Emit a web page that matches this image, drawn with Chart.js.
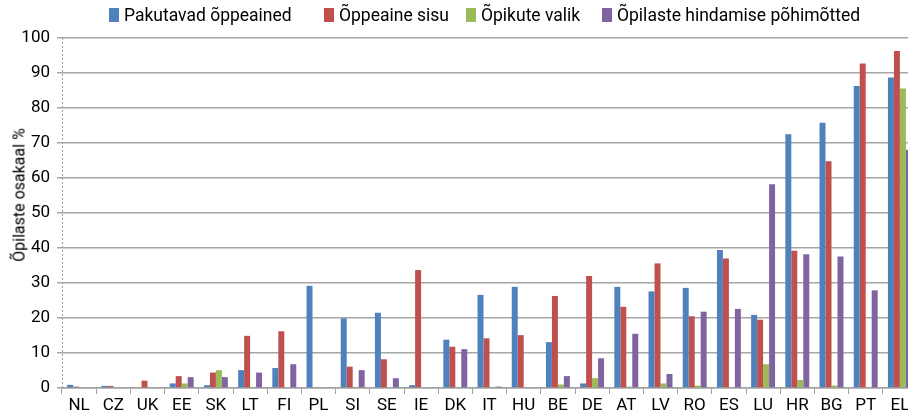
<!DOCTYPE html>
<html>
<head>
<meta charset="utf-8">
<script src="https://cdn.jsdelivr.net/npm/chart.js@4"></script>
<style>
  html, body { margin: 0; padding: 0; background: #fff; overflow: hidden; width: 908px; height: 419px; }
  #wrap { position: relative; width: 908px; height: 419px; }
  canvas { position: absolute; left: 0; top: 0; }
  #legend { position: absolute; left: 0; top: 5px; width: 908px; height: 24px; font-family: Roboto, sans-serif; font-size: 17.5px; color: #000; white-space: nowrap; }
  .item { position: absolute; top: 0; display: flex; align-items: center; }
  .box { width: 10px; height: 14px; margin-right: 5px; }
  #ytitle { position: absolute; left: 19px; top: 195px; transform: translate(-50%, -50%) rotate(-90deg); font-family: Roboto, sans-serif; font-size: 16px; color: #000; white-space: nowrap; }
</style>
</head>
<body>
<div id="wrap">
  <canvas id="chart" width="918" height="419"></canvas>
  <div id="legend"></div>
  <div id="ytitle">Õpilaste osakaal %</div>
</div>
<script>
const countries = ['NL','CZ','UK','EE','SK','LT','FI','PL','SI','SE','IE','DK','IT','HU','BE','DE','AT','LV','RO','ES','LU','HR','BG','PT','EL'];

const pakutavad = [0.9, 0.6, 0, 1.3, 0.8, 5.1, 5.7, 29.2, 19.9, 21.5, 0.8, 13.8, 26.6, 28.9, 13.1, 1.3, 28.9, 27.6, 28.6, 39.4, 20.9, 72.5, 75.8, 86.3, 88.7];
const sisu      = [0.4, 0.6, 2.1, 3.4, 4.4, 14.9, 16.2, 0, 6.1, 8.2, 33.7, 11.8, 14.2, 15.1, 26.3, 32.0, 23.2, 35.6, 20.5, 37.0, 19.5, 39.2, 64.8, 92.7, 96.3];
const valik     = [0, 0.3, 0, 1.3, 5.1, 0.3, 0, 0, 0.3, 0, 0, 0, 0, 0, 1.0, 2.8, 0.4, 1.3, 0.7, 0, 6.8, 2.3, 0.7, 0, 85.6];
const hindamine = [0, 0, 0, 3.1, 3.1, 4.4, 6.8, 0, 5.1, 2.8, 0, 11.1, 0.4, 0, 3.4, 8.5, 15.5, 4.0, 21.8, 22.6, 58.2, 38.2, 37.6, 27.9, 68.1];

const seriesNames = ['Pakutavad õppeained', 'Õppeaine sisu', 'Õpikute valik', 'Õpilaste hindamise põhimõtted'];
const seriesColors = ['#4f81bd', '#c0504d', '#9bbb59', '#8064a2'];
const legendLeft = [109, 324, 466, 602];
const yTicks = [0, 10, 20, 30, 40, 50, 60, 70, 80, 90, 100];

const font = { family: 'Roboto, sans-serif', size: 17 };

const datasets = [pakutavad, sisu, valik, hindamine].map((vals, i) => ({
  label: seriesNames[i],
  data: vals,
  backgroundColor: seriesColors[i],
  borderWidth: 0,
  barPercentage: 1.0,
  categoryPercentage: 0.7
}));

// legend as html
const legend = document.getElementById('legend');
seriesNames.forEach((name, i) => {
  const item = document.createElement('div');
  item.className = 'item';
  item.style.left = legendLeft[i] + 'px';
  item.innerHTML = `<span class="box" style="background:${seriesColors[i]}"></span><span>${name}</span>`;
  legend.appendChild(item);
});

// dotted y axis line
const dottedAxis = {
  id: 'dottedAxis',
  afterDraw(chart) {
    const { ctx, chartArea } = chart;
    ctx.save();
    ctx.strokeStyle = '#a0a0a0';
    ctx.lineWidth = 1;
    ctx.setLineDash([2, 2]);
    ctx.beginPath();
    ctx.moveTo(chartArea.left + 0.5, chartArea.top);
    ctx.lineTo(chartArea.left + 0.5, chartArea.bottom);
    ctx.stroke();
    ctx.restore();
  }
};

new Chart(document.getElementById('chart'), {
  type: 'bar',
  data: { labels: countries, datasets: datasets },
  options: {
    responsive: false,
    animation: false,
    layout: { padding: { top: 38, right: 1, bottom: 0, left: 0 } },
    plugins: { legend: { display: false }, tooltip: { enabled: false } },
    scales: {
      x: {
        offset: true,
        grid: { display: true, drawOnChartArea: false, drawTicks: true, tickLength: 6, color: '#a0a0a0', offset: true },
        border: { display: true, color: '#a0a0a0', width: 1.5 },
        ticks: { font: font, color: '#000', padding: 2, maxRotation: 0, autoSkip: false },
        afterFit: s => { s.height = 31; }
      },
      y: {
        min: 0,
        max: 100,
        afterBuildTicks: s => { s.ticks = yTicks.map(v => ({ value: v })); },
        grid: { color: '#a6a6a6', lineWidth: 1.5, drawTicks: true, tickLength: 5 },
        border: { display: false },
        ticks: { font: font, color: '#000', padding: 7 },
        afterFit: s => { s.width = 62; }
      }
    }
  },
  plugins: [dottedAxis]
});
</script>
</body>
</html>
